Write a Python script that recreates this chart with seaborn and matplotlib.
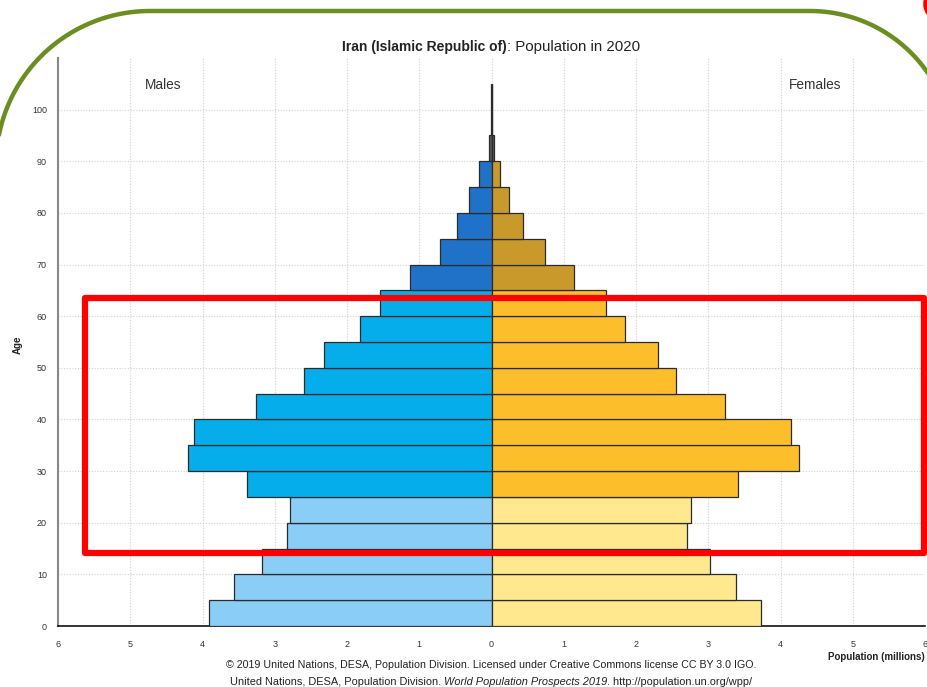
import matplotlib
matplotlib.use("Agg")
import matplotlib.pyplot as plt
import matplotlib.transforms as mtransforms
from matplotlib.patches import Rectangle, Ellipse
from matplotlib.lines import Line2D
import numpy as np
import seaborn as sns
import pandas as pd

# ---------------- data (millions) ----------------
age_groups = ["0-4", "5-9", "10-14", "15-19", "20-24", "25-29", "30-34", "35-39",
              "40-44", "45-49", "50-54", "55-59", "60-64", "65-69", "70-74",
              "75-79", "80-84", "85-89", "90-94", "95-99", "100+"]
age_start = [0, 5, 10, 15, 20, 25, 30, 35, 40, 45, 50, 55, 60, 65, 70, 75, 80, 85, 90, 95, 100]
males = [3.91, 3.56, 3.18, 2.83, 2.79, 3.38, 4.20, 4.12, 3.26, 2.60, 2.32, 1.82, 1.55,
         1.13, 0.71, 0.48, 0.31, 0.17, 0.03, 0.008, 0.002]
females = [3.73, 3.38, 3.03, 2.70, 2.76, 3.41, 4.26, 4.15, 3.23, 2.56, 2.30, 1.85, 1.58,
           1.14, 0.74, 0.43, 0.24, 0.115, 0.035, 0.01, 0.002]
x_ticks = [-6, -5, -4, -3, -2, -1, 0, 1, 2, 3, 4, 5, 6]
x_tick_labels = ["6", "5", "4", "3", "2", "1", "0", "1", "2", "3", "4", "5", "6"]
y_ticks = [0, 10, 20, 30, 40, 50, 60, 70, 80, 90, 100]

male_colors = {"young": "#8ACDF6", "work": "#05AEEA", "old": "#1F72C8", "oldest": "#5A5A5A"}
female_colors = {"young": "#FFE88E", "work": "#FDBE2C", "old": "#C99A2B", "oldest": "#5A5A5A"}


def segment(a):
    if a < 25:
        return "young"
    if a < 65:
        return "work"
    if a < 90:
        return "old"
    return "oldest"


rows = []
for a, m, f in zip(age_start, males, females):
    rows.append({"mid": a + 2.5, "value": -m, "key": "M_" + segment(a)})
    rows.append({"mid": a + 2.5, "value": f, "key": "F_" + segment(a)})
df = pd.DataFrame(rows)
palette = {"M_" + k: v for k, v in male_colors.items()}
palette.update({"F_" + k: v for k, v in female_colors.items()})

# ---------------- figure ----------------
sns.set_style("white")
plt.rcParams["font.family"] = ["Liberation Sans", "DejaVu Sans"]

W, H = 927, 687
fig = plt.figure(figsize=(W / 100, H / 100), dpi=100)
fig.patch.set_facecolor("white")
ax = fig.add_axes([58 / W, 1 - 626 / H, (925 - 58) / W, (626 - 58) / H])

sns.barplot(data=df, x="value", y="mid", hue="key", palette=palette, orient="y",
            native_scale=True, width=1, dodge=False, errorbar=None, saturation=1,
            edgecolor="#2b2b2b", linewidth=0.9, legend=False, ax=ax, zorder=3)

ax.set_xlim(-6, 6)
ax.set_ylim(0, 110)
ax.set_xticks(x_ticks)
ax.set_xticklabels(x_tick_labels)
ax.set_yticks(y_ticks)
ax.set_yticklabels([str(v) for v in y_ticks])
ax.tick_params(axis="both", labelsize=6.5, labelcolor="#333333", length=2,
               width=0.6, color="#555555", direction="out")
ax.tick_params(axis="x", pad=8)
ax.tick_params(axis="y", pad=6)
ax.set_xlabel("")
ax.set_ylabel("")
ax.grid(True, color="#d2d2d2", linestyle=(0, (1, 1.5)), linewidth=0.8, zorder=0)
ax.set_axisbelow(True)
for s in ["top", "right"]:
    ax.spines[s].set_visible(False)
ax.spines["left"].set_color("#888888")
ax.spines["left"].set_linewidth(1.5)
ax.spines["bottom"].set_color("#111111")
ax.spines["bottom"].set_linewidth(1.2)

ax.text(-4.54, 104.8, "Males", ha="center", va="center", fontsize=9.8, color="#333333")
ax.text(4.48, 104.8, "Females", ha="center", va="center", fontsize=9.8, color="#333333")

fig.text(18 / W, 1 - 345 / H, "Age", rotation=90, ha="center", va="center",
         fontsize=7, fontweight="bold", color="#222222")
fig.text(925 / W, 1 - 657 / H, "Population (millions)", ha="right", va="center",
         fontsize=7, fontweight="bold", color="#222222")

renderer = fig.canvas.get_renderer()


def centered_line(pieces, cx, cy, size):
    """pieces: list of (text, font props); drawn centred at pixel (cx, cy from top)."""
    arts = []
    for txt, props in pieces:
        props = dict(props)
        fs = props.pop("fontsize", size)
        t = fig.text(0, 1 - cy / H, txt, ha="left", va="center", fontsize=fs,
                     color="#222222", **props)
        arts.append(t)
    widths = [a.get_window_extent(renderer=renderer).width for a in arts]
    x = cx - sum(widths) / 2
    for a, w in zip(arts, widths):
        a.set_x(x / W)
        x += w


centered_line([("Iran (Islamic Republic of)", {"fontweight": "bold"}),
               (": Population in 2020", {"fontsize": 10.8})], 491, 47, 10)
centered_line([("\u00a9 2019 United Nations, DESA, Population Division. Licensed under "
                "Creative Commons license CC BY 3.0 IGO.", {})], 491, 665, 7.7)
centered_line([("United Nations, DESA, Population Division. ", {}),
               ("World Population Prospects 2019", {"fontstyle": "italic"}),
               (". http://population.un.org/wpp/", {})], 491, 682, 7.9)

# ---------------- annotations (screenshot overlays), pixel coords from top ----------------
ident = mtransforms.IdentityTransform()


def arc(cx, cy, r, a0, a1, n=60):
    t = np.radians(np.linspace(a0, a1, n))
    return cx + r * np.cos(t), cy - r * np.sin(t)


lx, ly = arc(150, 165, 154, 180, 90)
rx, ry = arc(810, 154, 143, 90, 0)
bx = np.concatenate([[lx[0]], lx, rx, [rx[-1]]])
by = np.concatenate([[900], ly, ry, [900]])
fig.add_artist(Line2D(bx, H - by, transform=ident, color="#6B8E23", linewidth=3.2,
                      solid_capstyle="round"))

red = Rectangle((85, H - 553), 924 - 85, 553 - 298, transform=ident, fill=False,
                edgecolor="#FF0000", linewidth=4.5, joinstyle="round")
fig.add_artist(red)
blob = Ellipse((935, H - 4), 18, 24, transform=ident, fill=False,
               edgecolor="#FF0000", linewidth=4)
fig.add_artist(blob)

fig.savefig("out.png", dpi=100, facecolor="white")
